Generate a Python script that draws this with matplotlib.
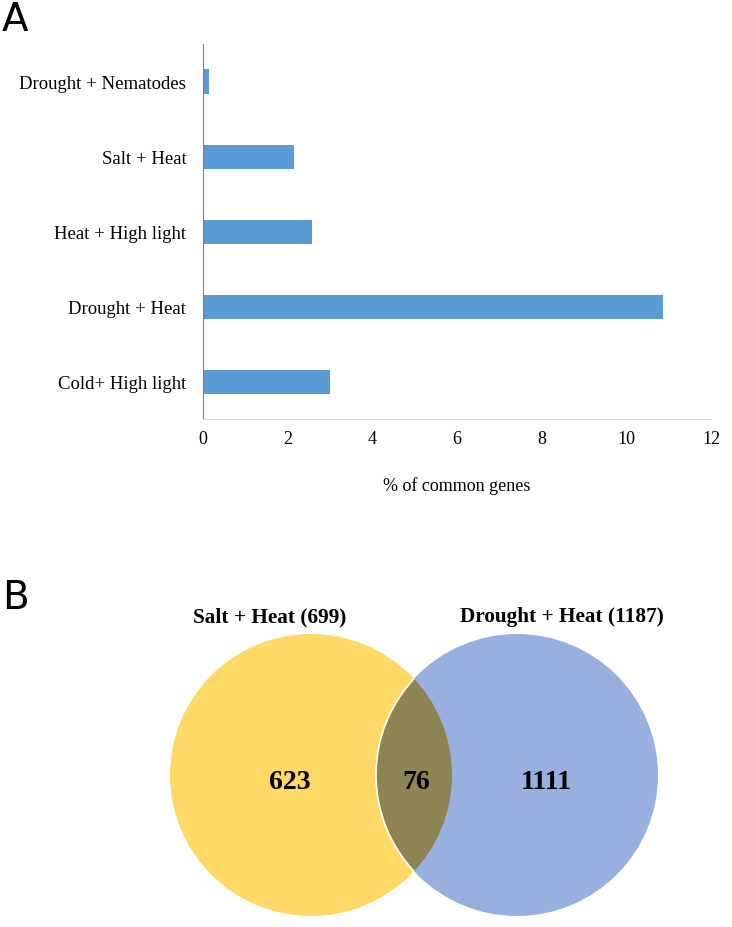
import matplotlib.pyplot as plt
from matplotlib.patches import Circle

plt.rcParams['font.family'] = ['Liberation Serif', 'DejaVu Serif']

# panel A data
pairs = ['Cold+ High light', 'Drought + Heat', 'Heat + High light', 'Salt + Heat', 'Drought + Nematodes']
pct = [3.0, 10.87, 2.57, 2.14, 0.14]
xticks = [0, 2, 4, 6, 8, 10, 12]

# panel B data
set_names = ['Salt + Heat (699)', 'Drought + Heat (1187)']
only_counts = [623, 1111]
shared = 76

fig = plt.figure(figsize=(7.32, 9.28), dpi=100)

ax = fig.add_axes([203/732, 1-420/928, 508/732, 375/928])
ax.barh(range(len(pairs)), pct, height=0.32, color='#5B9BD5')
ax.set_xlim(0, 12)
ax.set_ylim(-0.5, len(pairs)-0.5)
ax.set_xticks(xticks)
ax.set_yticks(range(len(pairs)))
ax.set_yticklabels(pairs)
ax.tick_params(length=0, labelsize=13.5, pad=12)
ax.tick_params(axis='x', pad=8, labelsize=13)
for s in ['top', 'right']:
    ax.spines[s].set_visible(False)
ax.spines['left'].set_color('#808080')
ax.spines['bottom'].set_color('#d9d9d9')
ax.set_xlabel('% of common genes', fontsize=13, labelpad=21)

# panel B venn in pixel coordinates
vx = fig.add_axes([0, 0, 1, 1])
vx.set_xlim(0, 732)
vx.set_ylim(928, 0)
vx.axis('off')
vx.patch.set_alpha(0)

r = 141
cl, cr, cy = 311, 517, 776
left = Circle((cl, cy), r, color='#FFD966', lw=0)
right = Circle((cr, cy), r, color='#98B0DF', lw=0)
vx.add_patch(left)
vx.add_patch(right)
lens = Circle((cr, cy), r, facecolor='#8E8352', edgecolor='white', lw=1.2)
vx.add_patch(lens)
lens.set_clip_path(Circle((cl, cy), r, transform=vx.transData))

vx.text(270, 617, set_names[0], ha='center', va='center', fontsize=15.3, fontweight='bold')
vx.text(562, 617, set_names[1], ha='center', va='center', fontsize=15.3, fontweight='bold')
vx.text(290, 783, str(only_counts[0]), ha='center', va='center', fontsize=20, fontweight='bold')
vx.text(416, 783, str(shared), ha='center', va='center', fontsize=20, fontweight='bold')
vx.text(546, 783, str(only_counts[1]), ha='center', va='center', fontsize=20, fontweight='bold')

fig.text(2/732, 1-20/928, 'A', fontsize=28, family='DejaVu Sans', va='center', ha='left')
fig.text(2/732, 1-598/928, 'B', fontsize=28, family='DejaVu Sans', va='center', ha='left')

fig.savefig('out.png', dpi=100)
